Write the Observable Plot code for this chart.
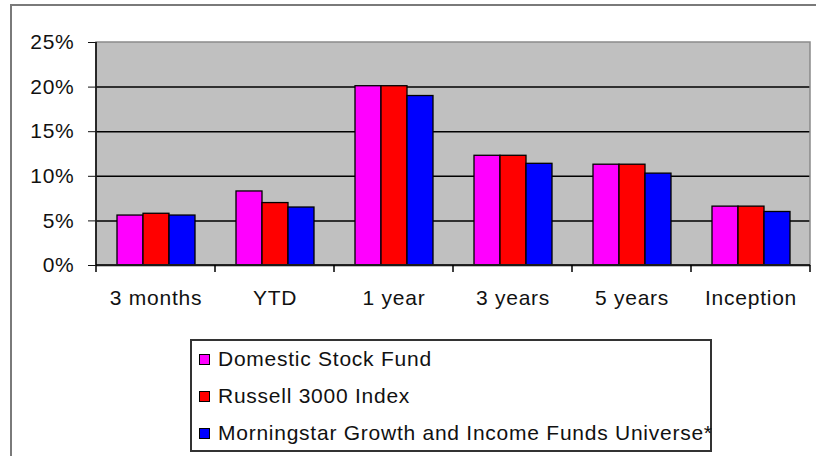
<!DOCTYPE html>
<html>
<head>
<meta charset="utf-8">
<script src="https://cdn.jsdelivr.net/npm/d3@7"></script>
<script src="https://cdn.jsdelivr.net/npm/@observablehq/plot@0.6"></script>
<style>
  html, body { margin: 0; padding: 0; background: #fff; overflow: hidden; }
  body { width: 816px; height: 456px; position: relative; font-family: "Liberation Sans", Arial, sans-serif; }
  #border { position: absolute; left: 10px; top: 4px; width: 900px; height: 600px; border: 2px solid #7a7a7a; box-sizing: border-box; }
  #chart { position: absolute; left: 0; top: 0; }
  #legend { position: absolute; left: 190px; top: 339px; width: 522px; height: 113px; border: 2px solid #333; box-sizing: border-box; background: #fff; }
  .item { position: absolute; left: 7px; height: 24px; display: flex; align-items: center; font-size: 21px; letter-spacing: 0.75px; color: #111; white-space: nowrap; }
  .sw { width: 9px; height: 9px; border: 1px solid #000; margin-right: 8px; }
</style>
</head>
<body>
<div id="border"></div>
<div id="chart"></div>
<div id="legend"></div>
<script>
const categories = ["3 months", "YTD", "1 year", "3 years", "5 years", "Inception"];
const seriesNames = ["Domestic Stock Fund", "Russell 3000 Index", "Morningstar Growth and Income Funds Universe*"];
const domesticStockFund = [5.6, 8.3, 20.1, 12.3, 11.3, 6.6];
const russell3000 = [5.8, 7.0, 20.1, 12.3, 11.3, 6.6];
const morningstarGI = [5.6, 6.5, 19.0, 11.4, 10.3, 6.0];
const seriesColors = ["#ff00ff", "#ff0000", "#0000ff"];
const yTicks = [0, 5, 10, 15, 20, 25];

const seriesValues = [domesticStockFund, russell3000, morningstarGI];
const table = [];
categories.forEach((c, i) => {
  seriesNames.forEach((s, j) => table.push({category: c, series: s, value: seriesValues[j][i]}));
});

const chart = Plot.plot({
  width: 816,
  height: 456,
  marginLeft: 95,
  marginRight: 5,
  marginTop: 42,
  marginBottom: 191,
  style: {fontFamily: "'Liberation Sans', Arial, sans-serif", fontSize: "21px", color: "#111", background: "transparent", letterSpacing: "0.75px"},
  fx: {domain: categories, padding: 0, axis: "bottom", tickSize: 0, tickPadding: 25, label: null},
  x: {domain: seriesNames, paddingInner: 0, paddingOuter: 0.75, axis: null},
  y: {domain: [0, 25], ticks: yTicks, tickFormat: d => d + "%", tickSize: 8, tickPadding: 14, label: null},
  color: {domain: seriesNames, range: seriesColors},
  marks: [
    Plot.ruleY([5, 10, 15, 20], {stroke: "#000", strokeWidth: 1.5}),
    Plot.barY(table, {fx: "category", x: "series", y: "value", fill: "series", stroke: "#000", strokeWidth: 1.3, inset: 0}),
    Plot.ruleY([0], {stroke: "#000", strokeWidth: 1.5})
  ]
});
document.getElementById("chart").appendChild(chart);

// plot-area background, border, axis line and category boundary ticks from Plot's scales
const fx = chart.scale("fx");
const y = chart.scale("y");
const x0 = fx.apply(categories[0]);
const x1 = fx.apply(categories[categories.length - 1]) + fx.bandwidth;
const y0 = y.apply(0), yTop = y.apply(25);
const svg = d3.select(chart);
svg.insert("rect", ":first-child")
  .attr("x", x0).attr("y", yTop).attr("width", x1 - x0).attr("height", y0 - yTop)
  .attr("fill", "#c0c0c0");
svg.append("rect")
  .attr("x", x0).attr("y", yTop).attr("width", x1 - x0).attr("height", y0 - yTop)
  .attr("fill", "none").attr("stroke", "#8a8a8a").attr("stroke-width", 1.5);
svg.append("line").attr("x1", x0).attr("x2", x0).attr("y1", yTop).attr("y2", y0)
  .attr("stroke", "#000").attr("stroke-width", 1.5);
svg.append("line").attr("x1", x0).attr("x2", x1).attr("y1", y0).attr("y2", y0)
  .attr("stroke", "#000").attr("stroke-width", 1.5);
const bounds = categories.map(c => fx.apply(c)).concat([x1]);
svg.selectAll("line.btick").data(bounds).join("line").attr("class", "btick")
  .attr("x1", d => d).attr("x2", d => d).attr("y1", y0).attr("y2", y0 + 7)
  .attr("stroke", "#000").attr("stroke-width", 1.5);

// legend
const legend = document.getElementById("legend");
seriesNames.forEach((s, i) => {
  const it = document.createElement("div");
  it.className = "item";
  it.style.top = (6 + i * 37) + "px";
  const sw = document.createElement("span");
  sw.className = "sw";
  sw.style.background = seriesColors[i];
  it.appendChild(sw);
  it.appendChild(document.createTextNode(s));
  legend.appendChild(it);
});
</script>
</body>
</html>
